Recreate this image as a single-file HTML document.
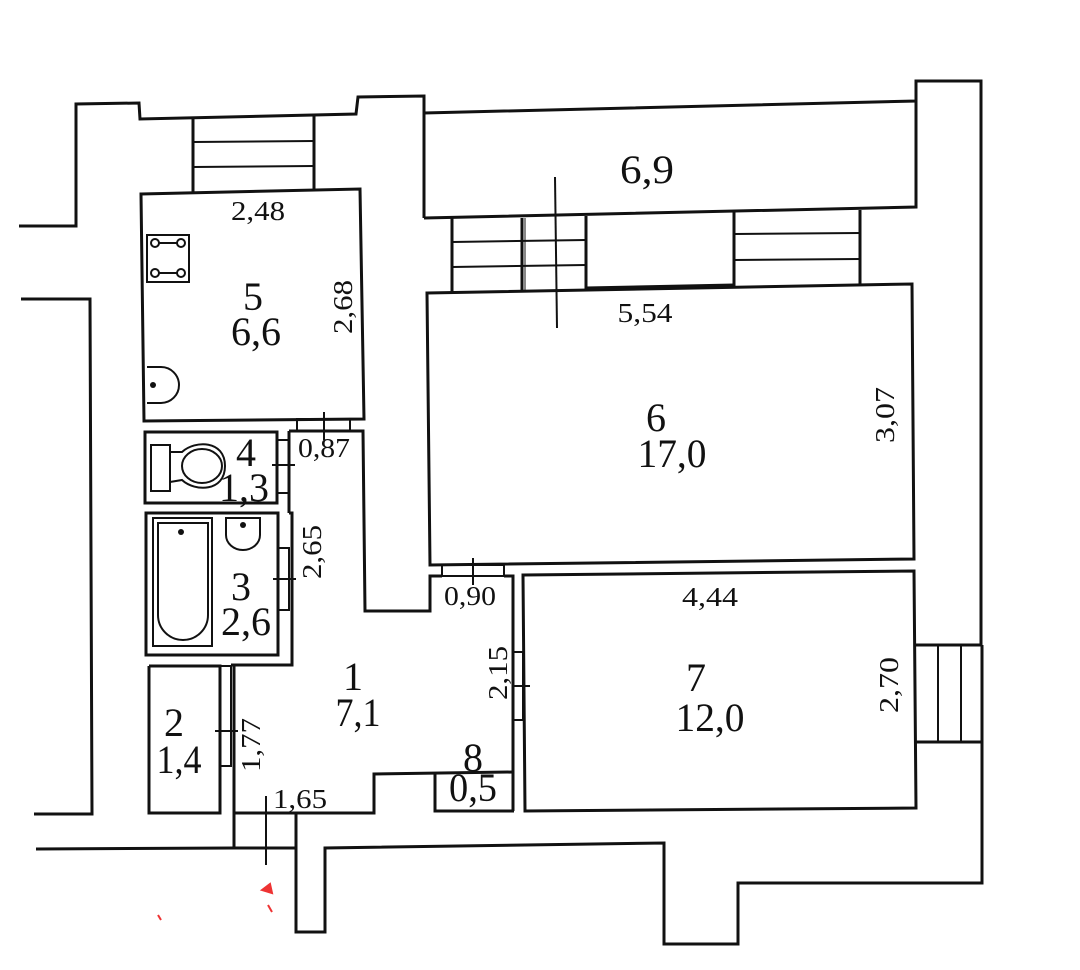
<!DOCTYPE html>
<html><head><meta charset="utf-8"><style>
html,body{margin:0;padding:0;background:#fff;}
svg{display:block;}
text{font-family:"Liberation Serif",serif;fill:#111;}
.b{font-size:40px;}
.d{font-size:27px;}
</style></head><body>
<svg width="1080" height="970" viewBox="0 0 1080 970" xmlns="http://www.w3.org/2000/svg">
<rect width="1080" height="970" fill="#fff"/>
<g fill="none" stroke="#111" stroke-width="3" stroke-linejoin="miter">
<polyline points="19,226 76,226 76,104 139,103 140,119 356,114 358,97 424,96 424,218"/>
<polyline points="424,113 916,101 916,81 981,81 981,645"/>
<polyline points="916,101 916,207 424,218"/>
<polyline points="21,299 90,299 92,814 34,814"/>
<polyline points="36,849 234,848"/>
<polyline points="296,815 296,932 325,932 325,848 664,843 664,944 738,944 738,883 982,883 982,742"/>
<line x1="234" y1="848" x2="296" y2="848"/>
<line x1="914" y1="645" x2="982" y2="645"/>
<line x1="914" y1="742" x2="982" y2="742"/>
<line x1="982" y1="645" x2="982" y2="742"/>
<line x1="193" y1="119" x2="193" y2="192"/>
<line x1="314" y1="116" x2="314" y2="190"/>
<polygon points="141,194 360,189 364,419 144,421"/>
<rect x="297" y="419" width="53" height="12" stroke-width="2"/>
<polyline points="289,431 363,431 365,611 430,611 430,576 442,576"/>
<polyline points="504,576 513,576 513,811"/>
<rect x="442" y="565" width="62" height="11" stroke-width="2"/>
<rect x="145" y="432" width="132" height="71"/>
<rect x="277" y="440" width="12" height="53" stroke-width="2"/>
<line x1="289" y1="431" x2="289" y2="513"/>
<rect x="146" y="513" width="132" height="142"/>
<polyline points="289,513 292,513 292,665 231,665"/>
<rect x="278" y="548" width="11" height="62" stroke-width="2"/>
<polyline points="149,666 220,666 220,813 149,813 149,666"/>
<rect x="220" y="666" width="11" height="100" stroke-width="2"/>
<polyline points="234,666 234,848"/>
<polyline points="234,813 374,813 374,774 513,772"/>
<line x1="296" y1="813" x2="296" y2="848"/>
<polyline points="435,773 435,811 514,811"/>
<polygon points="427,293 912,284 914,559 430,565"/>
<polyline points="452,218 452,292"/>
<polyline points="586,216 586,289"/>
<polyline points="734,212 734,286"/>
<polyline points="860,210 860,285"/>
<line x1="586" y1="288" x2="734" y2="285" />
<polygon points="523,575 914,571 916,808 525,811"/>
<rect x="513" y="652" width="10" height="68" stroke-width="2"/>
</g>
<g fill="none" stroke="#111" stroke-width="2">
<line x1="193" y1="142" x2="314" y2="141"/>
<line x1="193" y1="167" x2="314" y2="166"/>
<line x1="452" y1="242" x2="586" y2="240"/>
<line x1="452" y1="267" x2="586" y2="265"/>
<line x1="734" y1="234" x2="860" y2="233"/>
<line x1="734" y1="260" x2="860" y2="259"/>
<line x1="522" y1="218" x2="522" y2="292" stroke-width="3"/>
<line x1="525" y1="218" x2="525" y2="292" stroke-width="1"/>
<line x1="938" y1="645" x2="938" y2="742"/>
<line x1="961" y1="645" x2="961" y2="742"/>
<line x1="555" y1="177" x2="557" y2="328"/>
<line x1="324" y1="412" x2="324" y2="440"/>
<line x1="272" y1="465" x2="295" y2="465"/>
<line x1="273" y1="579" x2="296" y2="579"/>
<line x1="215" y1="731" x2="238" y2="731"/>
<line x1="473" y1="558" x2="473" y2="585"/>
<line x1="513" y1="686" x2="530" y2="686"/>
<line x1="266" y1="796" x2="266" y2="865"/>
<rect x="147" y="235" width="42" height="47"/>
<line x1="155" y1="243" x2="181" y2="243"/>
<line x1="155" y1="273" x2="181" y2="273"/>
<circle cx="155" cy="243" r="4" fill="#fff"/>
<circle cx="181" cy="243" r="4" fill="#fff"/>
<circle cx="155" cy="273" r="4" fill="#fff"/>
<circle cx="181" cy="273" r="4" fill="#fff"/>
<path d="M147,367 L161,367 A18,18 0 0 1 161,403 L147,403"/>
<rect x="151" y="445" width="19" height="46"/>
<path d="M170,452 L182,452 C195,440 225,440 225,466 C225,492 195,492 182,480 L170,482"/>
<ellipse cx="202" cy="466" rx="20" ry="17"/>
<rect x="153" y="518" width="59" height="128"/>
<path d="M158,523 L208,523 L208,615 A25,25 0 0 1 158,615 Z"/>
<path d="M226,518 L260,518 L260,535 A17,15 0 0 1 226,535 Z"/>
</g>
<g fill="#111">
<circle cx="153" cy="385" r="3"/>
<circle cx="181" cy="532" r="3"/>
<circle cx="243" cy="525" r="3"/>
</g>
<path d="M262,890 L270,884 L272,893 Z M268,905 L272,912 M158,915 L161,920" stroke="#e33" stroke-width="2" fill="#e33"/>
<g class="d" text-anchor="middle">
<text x="258" y="220" textLength="54" lengthAdjust="spacingAndGlyphs">2,48</text>
<text x="645" y="322" textLength="55" lengthAdjust="spacingAndGlyphs">5,54</text>
<text x="324" y="457" textLength="52" lengthAdjust="spacingAndGlyphs">0,87</text>
<text x="470" y="605" textLength="52" lengthAdjust="spacingAndGlyphs">0,90</text>
<text x="710" y="606" textLength="56" lengthAdjust="spacingAndGlyphs">4,44</text>
<text x="300" y="808" textLength="54" lengthAdjust="spacingAndGlyphs">1,65</text>
<text transform="translate(352,307) rotate(-90)" textLength="54" lengthAdjust="spacingAndGlyphs">2,68</text>
<text transform="translate(321,552) rotate(-90)" textLength="54" lengthAdjust="spacingAndGlyphs">2,65</text>
<text transform="translate(260,745) rotate(-90)" textLength="54" lengthAdjust="spacingAndGlyphs">1,77</text>
<text transform="translate(507,673) rotate(-90)" textLength="54" lengthAdjust="spacingAndGlyphs">2,15</text>
<text transform="translate(894,415) rotate(-90)" textLength="56" lengthAdjust="spacingAndGlyphs">3,07</text>
<text transform="translate(898,685) rotate(-90)" textLength="56" lengthAdjust="spacingAndGlyphs">2,70</text>
</g>
<g class="b" text-anchor="middle">
<text x="253" y="310">5</text>
<text x="256" y="345" textLength="50" lengthAdjust="spacingAndGlyphs">6,6</text>
<text x="647" y="183" textLength="54" lengthAdjust="spacingAndGlyphs">6,9</text>
<text x="656" y="431">6</text>
<text x="672" y="467" textLength="69" lengthAdjust="spacingAndGlyphs">17,0</text>
<text x="246" y="466">4</text>
<text x="244" y="501" textLength="50" lengthAdjust="spacingAndGlyphs">1,3</text>
<text x="241" y="600">3</text>
<text x="246" y="635" textLength="50" lengthAdjust="spacingAndGlyphs">2,6</text>
<text x="353" y="690">1</text>
<text x="358" y="726" textLength="45" lengthAdjust="spacingAndGlyphs">7,1</text>
<text x="174" y="736">2</text>
<text x="179" y="773" textLength="45" lengthAdjust="spacingAndGlyphs">1,4</text>
<text x="473" y="771">8</text>
<text x="473" y="801" textLength="48" lengthAdjust="spacingAndGlyphs">0,5</text>
<text x="696" y="691">7</text>
<text x="710" y="731" textLength="69" lengthAdjust="spacingAndGlyphs">12,0</text>
</g>
</svg>
</body></html>
